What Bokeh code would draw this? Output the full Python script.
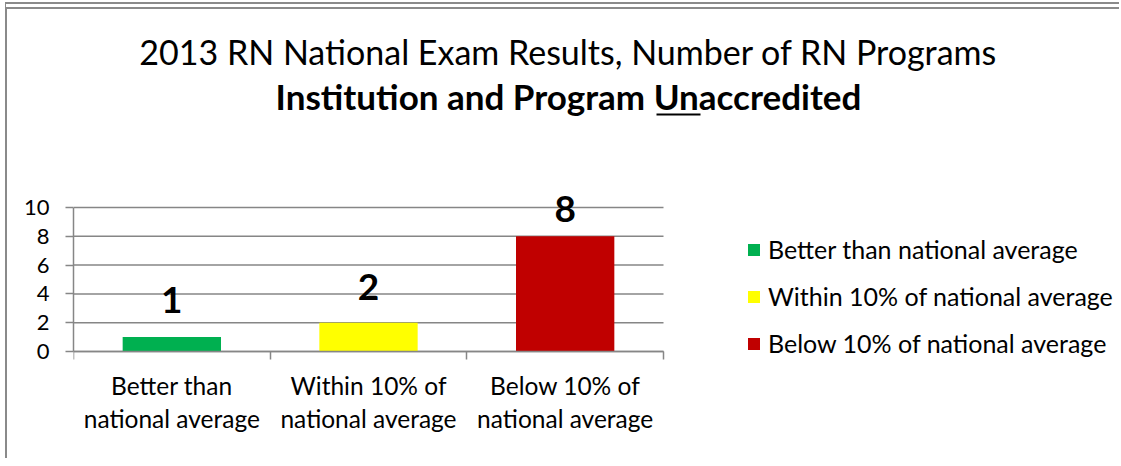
from bokeh.plotting import figure
from bokeh.models import (ColumnDataSource, Range1d, FixedTicker, Label, LabelSet,
                          Legend, LegendItem, BoxAnnotation)
from bokeh.core.properties import value
from bokeh.embed import file_html
from bokeh.resources import INLINE

# ---- data ----
categories = ["Better than national average",
              "Within 10% of national average",
              "Below 10% of national average"]
tick_labels = ["Better than\nnational average",
               "Within 10% of\nnational average",
               "Below 10% of\nnational average"]
values = [1, 2, 8]
colors = ["#00B050", "#FFFF00", "#C00000"]
y_ticks = [0, 2, 4, 6, 8, 10]
title_line1 = "2013 RN National Exam Results, Number of RN Programs"
title_line2 = "Institution and Program Unaccredited"
label_lift = [24, 23, 14]   # pixel lift of value labels above bar tops (style)

FONT = "Lato"
GRID = "#868686"

n = len(categories)
centers = [i + 0.5 for i in range(n)]
src = ColumnDataSource(dict(x=centers, top=values, color=colors, cat=categories,
                            txt=[str(v) for v in values], lift=label_lift))

# canvas geometry (pixels)
W, H = 1114, 456
FL = 66            # frame left
FR = 4             # border right of frame
FB = 3             # border below frame
AXIS_Y = 342       # canvas y of value 0
PX_X = 590 / n     # px per category
PX_Y = 14.4        # px per unit
FW = W - FL - FR
FH_BOT = H - FB
p = figure(width=W, height=H, output_backend="svg", toolbar_location=None,
           x_range=Range1d(0, FW / PX_X),
           y_range=Range1d(-(FH_BOT - AXIS_Y) / PX_Y, AXIS_Y / PX_Y),
           min_border_left=FL, min_border_top=0,
           min_border_right=FR, min_border_bottom=FB,
           outline_line_color=None, background_fill_color="white",
           border_fill_color="white")
p.styles = {"margin-left": "5px", "margin-top": "2px",
            "border-left": "2px solid #8a8a8a", "border-top": "7px double #8a8a8a"}

p.xgrid.visible = False
p.ygrid.visible = False
# horizontal gridlines across the category span
p.segment(x0=[0] * len(y_ticks), x1=[n] * len(y_ticks), y0=y_ticks, y1=y_ticks,
          line_color=GRID, line_width=1.5)

r = p.vbar(x="x", top="top", width=0.5, bottom=0, color="color", source=src,
           line_color=None)

# value labels
p.add_layout(LabelSet(x="x", y="top", text="txt", source=src, y_offset="lift",
                      text_align="center", text_baseline="alphabetic",
                      text_font=value(FONT), text_font_style="bold",
                      text_font_size="37px", text_color="black"))

ya = p.yaxis[0]
ya.ticker = FixedTicker(ticks=y_ticks)
ya.bounds = (0, 10)
ya.axis_line_color = GRID
ya.axis_line_width = 1.5
ya.major_tick_line_color = GRID
ya.major_tick_line_width = 1.5
ya.major_tick_out = 8
ya.major_tick_in = 0
ya.minor_tick_line_color = None
ya.major_label_standoff = 16
ya.major_label_text_font = FONT
ya.major_label_text_font_size = "22px"
ya.major_label_text_color = "black"

xa = p.xaxis[0]
xa.fixed_location = 0
xa.bounds = (0, n)
xa.ticker = FixedTicker(ticks=centers, minor_ticks=list(range(n + 1)))
xa.major_label_overrides = {c: t for c, t in zip(centers, tick_labels)}
xa.axis_line_color = GRID
xa.axis_line_width = 1.5
xa.major_tick_line_color = None
xa.major_tick_out = 0
xa.minor_tick_line_color = GRID
xa.minor_tick_line_width = 1.5
xa.minor_tick_out = 8
xa.minor_tick_in = 0
xa.major_label_standoff = 11
xa.major_label_text_font = FONT
xa.major_label_text_font_size = "24.5px"
xa.major_label_text_line_height = 1.16
xa.major_label_text_color = "black"

# title (two lines), positioned in pixels from the frame's bottom-left
BOT = FH_BOT
p.add_layout(Label(x=495, y=BOT - 54 + 12, x_units="screen", y_units="screen",
                   text=title_line1, text_align="center", text_baseline="alphabetic",
                   text_font=FONT, text_font_size="34px", text_color="black"))
p.add_layout(Label(x=495, y=BOT - 99 + 13, x_units="screen", y_units="screen",
                   text=title_line2, text_align="center", text_baseline="alphabetic",
                   text_font=FONT, text_font_style="bold", text_font_size="35px",
                   text_color="black"))
# underline of "Un"
p.add_layout(BoxAnnotation(left=583, right=627, bottom=BOT - 106, top=BOT - 104,
                           left_units="screen", right_units="screen",
                           bottom_units="screen", top_units="screen",
                           fill_color="black", fill_alpha=1, line_color=None,
                           level="overlay"))

# legend
items = [LegendItem(label=c, renderers=[r], index=i) for i, c in enumerate(categories)]
leg = Legend(items=items, location=(673, BOT - 349), orientation="vertical",
             glyph_width=15, glyph_height=15, label_height=30, spacing=17,
             label_standoff=7, padding=0, margin=0,
             border_line_color=None, background_fill_alpha=0,
             label_text_font=FONT, label_text_font_size="25px",
             label_text_color="black")
p.add_layout(leg, "center")

open("out.html", "w").write(file_html(p, INLINE))
